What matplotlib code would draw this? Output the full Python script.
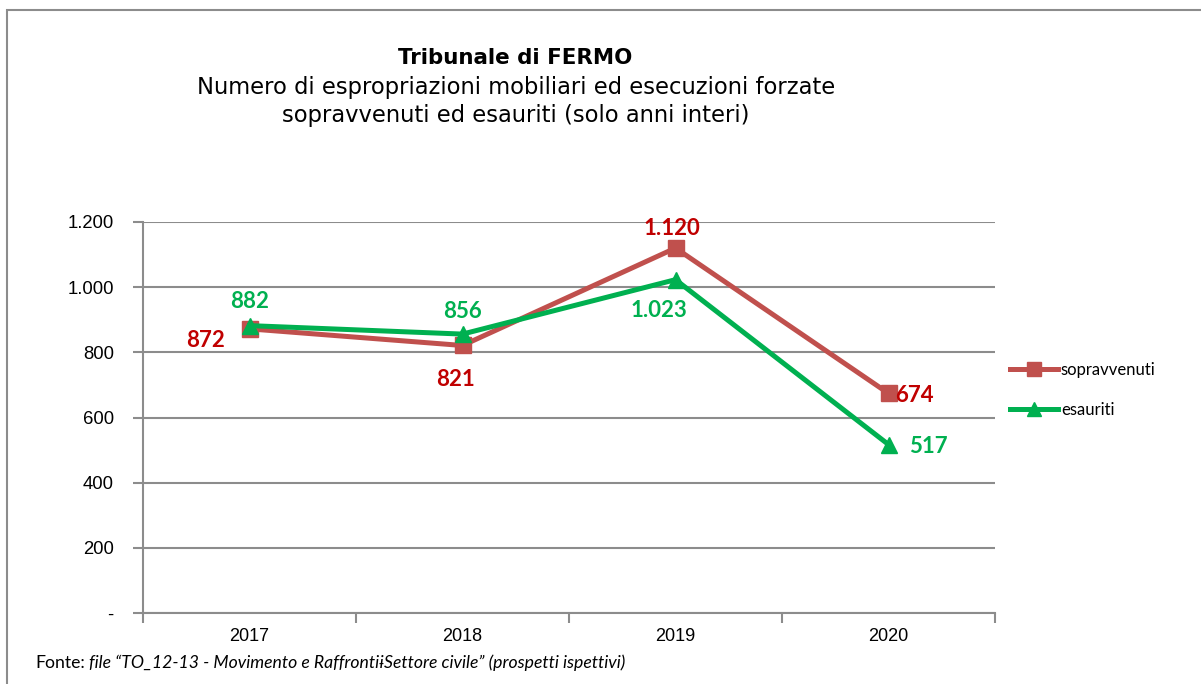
import matplotlib
matplotlib.use("Agg")
import matplotlib.pyplot as plt
from matplotlib.patches import Rectangle
from matplotlib.ticker import FuncFormatter, FixedLocator

years = ["2017", "2018", "2019", "2020"]
sopravvenuti = [872, 821, 1120, 674]
esauriti = [882, 856, 1023, 517]

RED = "#C0504D"
RED_LBL = "#C00000"
GREEN = "#00B050"
GRID = "#8C8C8C"

W, H = 1201, 684
fig = plt.figure(figsize=(W / 100, H / 100), dpi=100)
fig.patch.set_facecolor("white")

# outer chart border
fig.patches.append(Rectangle((7 / W, -0.1), 1.2, 1 - 10 / H + 0.1, transform=fig.transFigure,
                             fill=False, edgecolor="#8C8C8C", linewidth=1.5))

ax = fig.add_axes([143 / W, (H - 613) / H, 852 / W, 391 / H])
x = list(range(1, len(years) + 1))

ax.plot(x, sopravvenuti, color=RED, lw=3.6, marker="s", ms=11, label="sopravvenuti", zorder=3)
ax.plot(x, esauriti, color=GREEN, lw=3.6, marker="^", ms=11, label="esauriti", zorder=4)

ax.set_xlim(0.5, len(years) + 0.5)
ax.set_ylim(0, 1200)
ax.yaxis.set_major_locator(FixedLocator([0, 200, 400, 600, 800, 1000, 1200]))

def fmt(v, pos=None):
    v = int(round(v))
    if v == 0:
        return "-"
    return f"{v:,}".replace(",", ".")

ax.yaxis.set_major_formatter(FuncFormatter(fmt))
ax.grid(axis="y", color=GRID, lw=1.5)
ax.set_axisbelow(True)

ax.set_xticks([i + 0.5 for i in range(0, len(years) + 1)])
ax.set_xticklabels([])
ax.set_xticks(x, minor=True)
ax.set_xticklabels(years, minor=True)
ax.tick_params(axis="x", which="minor", length=0, pad=11, labelsize=13)
ax.tick_params(axis="x", which="major", length=7, color=GRID, width=1.5, direction="out")
ax.tick_params(axis="y", length=7, color=GRID, width=1.5, direction="out", pad=14, labelsize=13.3)
for lbl in ax.get_xticklabels(minor=True) + ax.get_yticklabels():
    lbl.set_fontfamily("Liberation Sans")

for s in ["top", "right"]:
    ax.spines[s].set_visible(False)
for s in ["left", "bottom"]:
    ax.spines[s].set_color(GRID)
    ax.spines[s].set_linewidth(1.5)

lab_kw = dict(fontfamily="Lato", fontweight="bold", fontsize=16, textcoords="offset pixels")
red_off = [(-44, -12), (-7, -34), (-4, 20), (26, -2)]
for xi, v, off in zip(x, sopravvenuti, red_off):
    ax.annotate(fmt(v), (xi, v), xytext=off, ha="center", va="center", color=RED_LBL, **lab_kw)
green_off = [(0, 24), (0, 23), (-17, -31), (40, -2)]
for xi, v, off in zip(x, esauriti, green_off):
    ax.annotate(fmt(v), (xi, v), xytext=off, ha="center", va="center", color=GREEN, **lab_kw)

leg = fig.legend(loc="upper left", bbox_to_anchor=(995 / W, 1 - 347 / H), frameon=False,
                 prop={"family": "Lato", "size": 12}, handlelength=2.9, handletextpad=0.15,
                 labelspacing=1.45, markerscale=0.9)

fig.text(515 / W, 1 - 58 / H, "Tribunale di FERMO", ha="center", va="center",
         fontfamily="DejaVu Sans", fontweight="bold", fontsize=15.4)
fig.text(516 / W, 1 - 101.5 / H,
         "Numero di espropriazioni mobiliari ed esecuzioni forzate\nsopravvenuti ed esauriti (solo anni interi)",
         ha="center", va="center", fontfamily="DejaVu Sans", fontsize=16.3, linespacing=1.27)

t1 = fig.text(35 / W, 1 - 663 / H, "Fonte:", ha="left", va="center", fontfamily="Lato", fontsize=12.7)
fig.canvas.draw()
bb = t1.get_window_extent()
fig.text((bb.x1 + 4) / W, 1 - 663 / H,
         "file \u201cTO_12-13 - Movimento e Raffronti\u0268Settore civile\u201d (prospetti ispettivi)",
         ha="left", va="center", fontfamily="Lato", fontstyle="italic", fontsize=12.7)

fig.savefig("out.png", dpi=100)
